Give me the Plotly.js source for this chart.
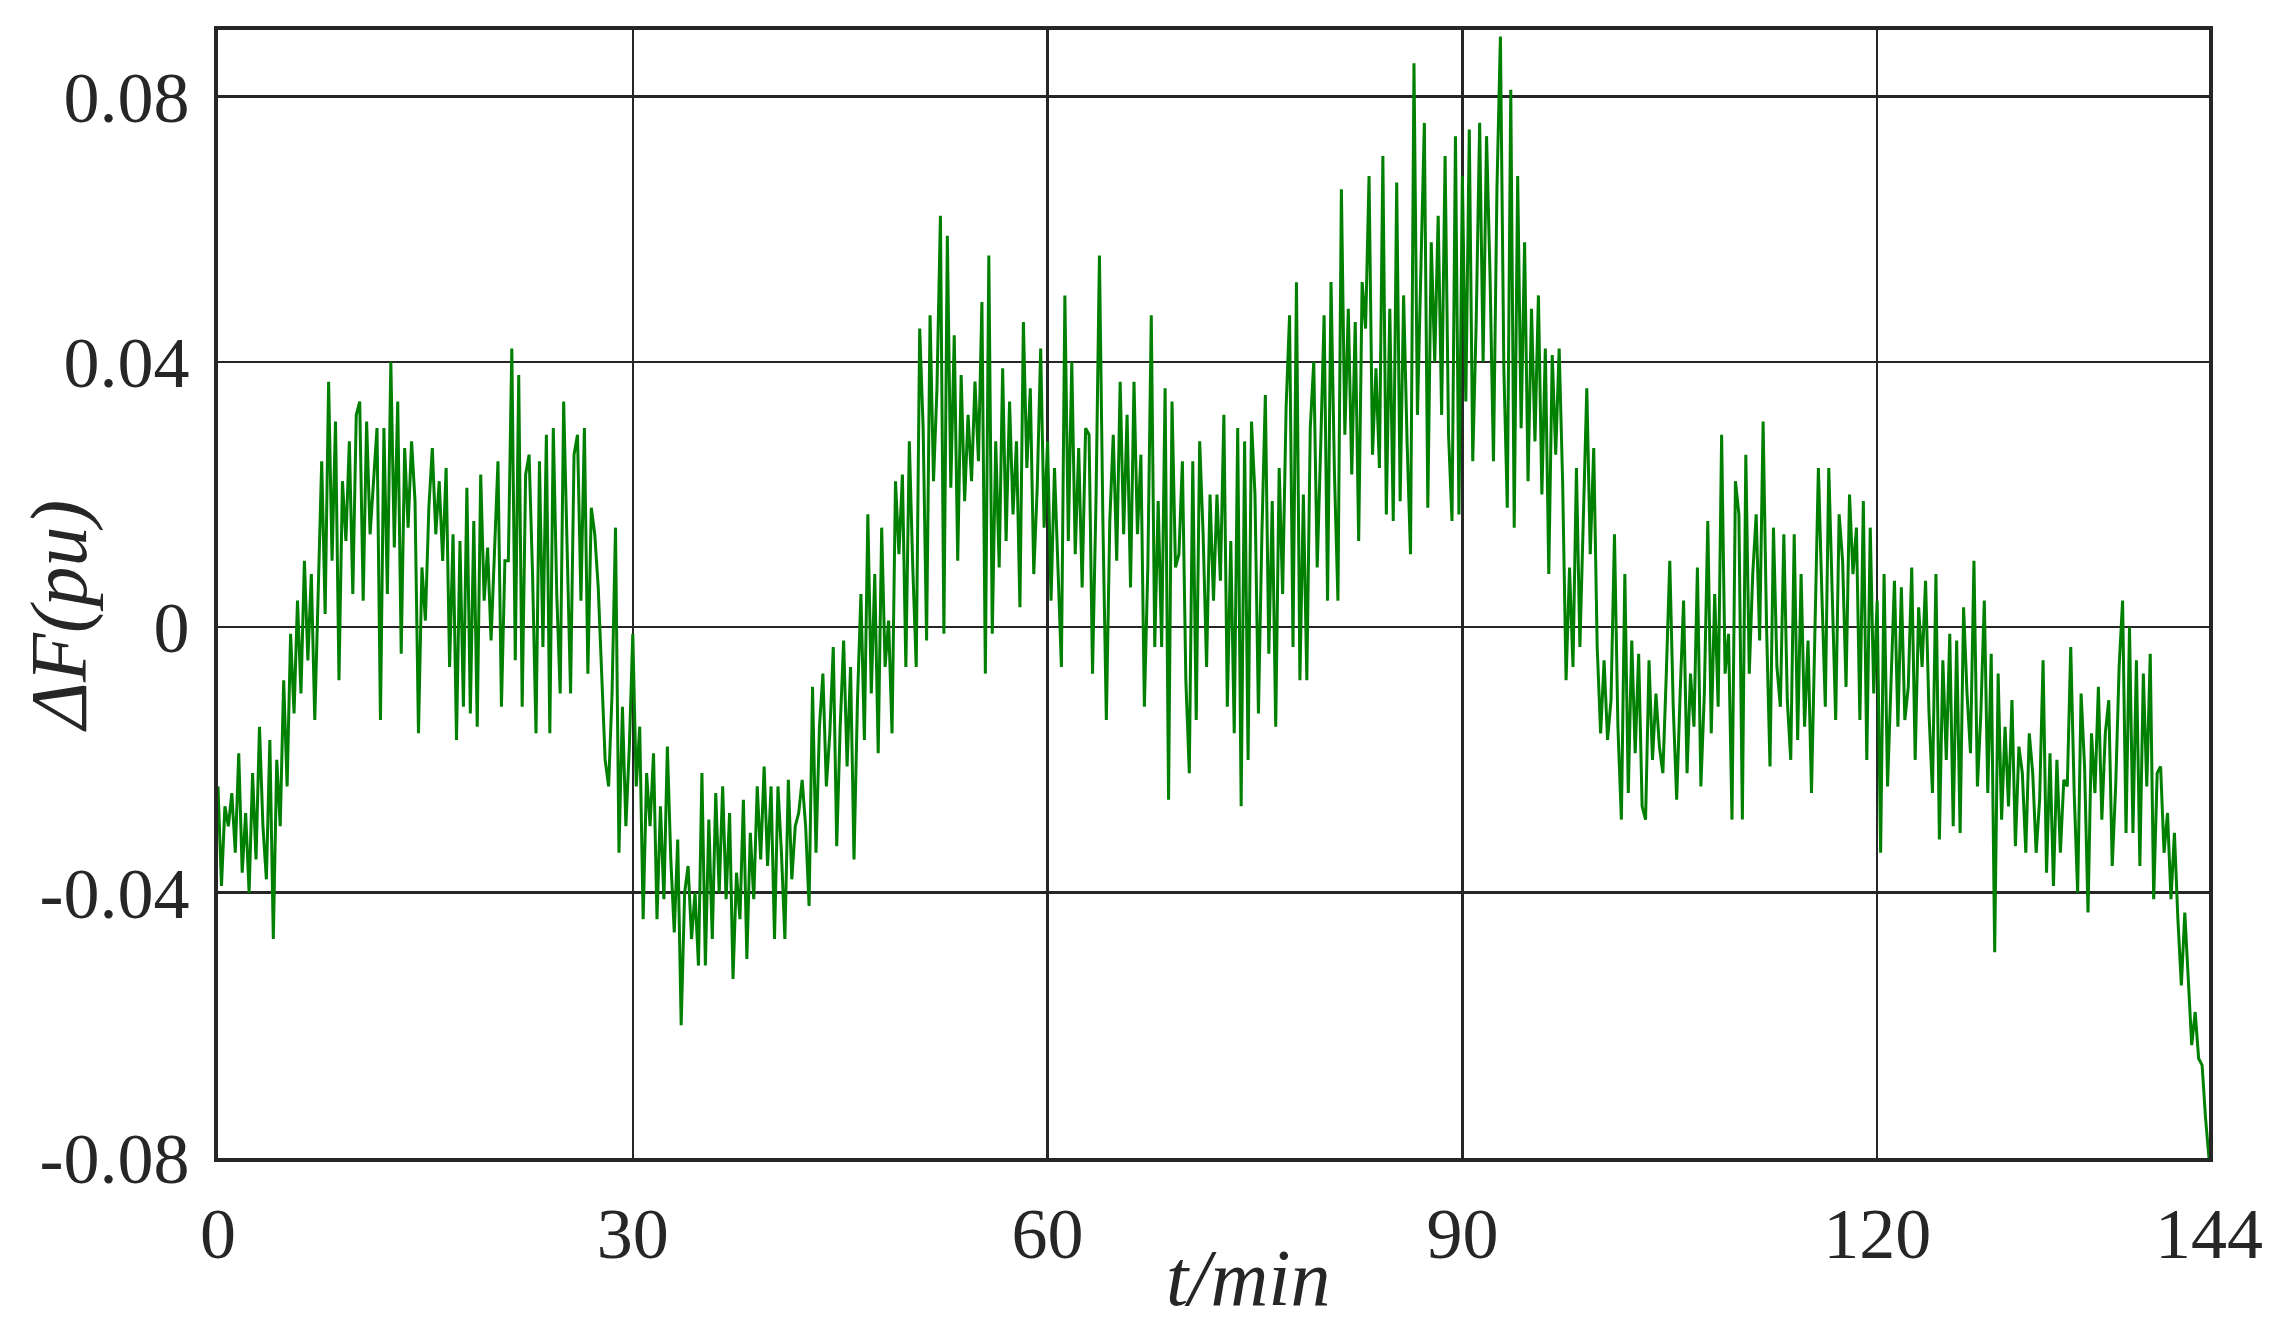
<!DOCTYPE html>
<html>
<head>
<meta charset="utf-8">
<script src="https://cdn.plot.ly/plotly-3.0.1.min.js"></script>
<style>html,body{margin:0;padding:0;background:#fff;}#chart{width:2274px;height:1324px;}</style>
</head>
<body>
<div id="chart"></div>
<script>
// Sampling step of the series (minutes)
const SAMPLE_STEP = 0.25;

// ΔF (pu), t = 0 .. 30.75 min
const dF_00_30 = [
 -0.024,-0.039,-0.027,-0.030,-0.025,-0.034,-0.019,-0.037,-0.028,-0.040,
 -0.022,-0.035,-0.015,-0.030,-0.038,-0.017,-0.047,
 -0.020,-0.030,-0.008,-0.024,-0.001,
 -0.013,0.004,-0.010,0.010,-0.005,0.008,-0.014,0.006,
 0.025,0.002,0.037,0.010,0.031,-0.008,0.022,0.013,0.028,0.005,0.032,
 0.034,0.004,0.031,0.014,0.022,0.030,-0.014,0.030,0.005,0.040,0.012,0.034,-0.004,0.027,0.015,0.028,0.019,-0.016,0.009,0.001,0.018,0.027,0.014,0.022,
 0.010,0.024,-0.006,0.014,-0.017,0.013,-0.012,0.021,-0.013,0.016,-0.015,0.023,0.004,0.012,-0.002,0.013,0.025,-0.012,0.010,
 0.010,0.042,-0.005,0.038,-0.012,0.023,0.026,0.008,-0.016,0.025,-0.003,0.029,-0.016,0.030,0.005,-0.010,0.034,0.010,-0.010,0.026,0.029,0.004,0.030,-0.007,0.018,0.014,
 0.006,-0.007,-0.020,-0.024,-0.010,0.015,-0.034,-0.012,-0.030,-0.018,-0.001,-0.024,-0.015,-0.044
];

// t = 31.0 .. 60.75 min
const dF_30_60 = [
 -0.022,-0.030,-0.019,-0.044,-0.027,-0.041,-0.018,-0.035,-0.046,
 -0.032,-0.060,-0.040,-0.036,-0.047,-0.040,-0.051,-0.022,-0.051,-0.029,-0.047,-0.025,-0.040,-0.024,-0.041,-0.028,-0.053,-0.037,-0.044,-0.026,-0.050,-0.031,-0.041,-0.024,
 -0.035,-0.021,-0.036,-0.024,-0.047,-0.024,-0.034,-0.047,-0.023,-0.038,-0.030,-0.028,-0.023,-0.030,-0.042,
 -0.009,-0.034,-0.015,-0.007,-0.024,-0.016,-0.003,-0.033,-0.015,-0.002,-0.021,-0.006,-0.035,-0.011,
 0.005,-0.017,0.017,-0.010,0.008,-0.019,0.015,-0.006,0.001,-0.016,0.022,
 0.011,0.023,-0.006,0.028,0.009,-0.006,0.045,0.030,-0.002,0.047,0.022,0.036,0.062,-0.001,0.059,0.021,
 0.044,0.010,0.038,0.019,0.032,0.022,0.037,0.025,0.049,-0.007,0.056,-0.001,0.028,0.009,0.039,0.013,0.034,0.017,0.028,0.003,0.046,0.024,0.036,0.008,0.021,0.042,0.015,0.028,0.004,0.024,0.009
];

// t = 61.0 .. 90.75 min
const dF_60_90 = [
 -0.006,0.050,0.013,0.040,0.011,0.027,0.006,0.030,0.029,-0.007,0.019,0.056,
 0.016,-0.014,0.016,0.029,0.010,0.037,0.014,0.032,0.006,0.037,0.014,0.026,
 -0.012,0.009,0.047,-0.003,0.019,-0.003,0.036,-0.026,0.034,
 0.009,0.011,0.025,-0.008,-0.022,0.025,-0.014,0.028,0.014,-0.006,0.020,0.004,0.020,0.007,0.032,
 -0.012,0.013,-0.016,0.030,-0.027,0.028,-0.020,0.031,0.020,-0.013,0.014,0.035,-0.004,
 0.019,-0.015,0.024,0.005,0.033,0.047,-0.003,0.052,-0.008,0.020,-0.008,0.030,0.040,
 0.009,0.027,0.047,0.004,0.052,0.023,0.004,0.066,0.029,0.048,0.023,0.046,0.013,0.052,
 0.045,0.068,0.026,0.039,0.024,0.071,0.017,0.048,0.016,0.067,0.019,0.050,0.028,
 0.011,0.085,0.032,0.055,0.076,0.018,0.058,0.040,0.062,0.032,0.071,0.029,0.016,0.074,0.017,0.068,0.034,0.075,0.025
];

// t = 91.0 .. 120.75 min
const dF_90_120 = [
 0.046,0.076,0.040,0.074,0.053,0.025,0.066,0.089,0.039,
 0.018,0.081,0.015,0.068,0.030,0.058,0.022,0.048,0.028,0.050,
 0.020,0.042,0.008,0.041,0.026,0.042,0.022,
 -0.008,0.009,-0.006,0.024,-0.003,0.017,0.036,0.011,0.027,-0.003,
 -0.016,-0.005,-0.017,-0.011,0.014,-0.015,-0.029,0.008,-0.025,-0.002,-0.019,-0.004,-0.027,-0.029,-0.005,-0.020,-0.010,-0.018,-0.022,-0.007,0.010,-0.012,
 -0.026,-0.010,0.004,-0.022,-0.007,-0.015,0.009,-0.024,-0.010,0.016,-0.016,0.005,-0.012,0.029,-0.007,-0.001,-0.029,0.022,0.017,-0.029,0.026,-0.007,0.008,0.017,-0.002,0.031,0.000,-0.021,0.015,
 -0.006,-0.012,0.014,-0.011,-0.020,0.014,-0.017,0.008,-0.015,-0.002,-0.025,0.000,0.024,
 0.005,-0.012,0.024,0.006,-0.014,0.017,0.010,-0.009,0.020,0.008,0.015,-0.014,0.019,-0.020,0.015,-0.010,0.004,-0.034,0.008,-0.024
];

// t = 121.0 .. 144.0 min
const dF_120_144 = [
 -0.008,0.007,-0.015,0.006,-0.014,-0.009,0.009,-0.020,0.003,-0.006,0.007,-0.013,-0.025,
 0.008,-0.032,-0.005,-0.020,-0.001,-0.030,-0.002,-0.031,0.003,-0.010,-0.019,0.010,-0.024,-0.013,0.004,-0.025,-0.004,
 -0.049,-0.007,-0.029,-0.015,-0.027,-0.011,-0.033,-0.018,-0.022,-0.034,-0.016,-0.022,-0.034,-0.026,-0.005,-0.037,-0.019,
 -0.039,-0.020,-0.034,-0.023,-0.024,-0.003,-0.025,-0.040,-0.010,-0.021,-0.043,-0.016,-0.025,-0.009,-0.029,-0.016,-0.011,-0.036,-0.024,-0.006,
 0.004,-0.031,0.000,-0.031,-0.005,-0.036,-0.007,-0.024,-0.004,-0.041,
 -0.022,-0.021,-0.034,-0.028,-0.041,-0.031,-0.044,-0.054,-0.043,-0.053,-0.063,-0.058,-0.065,-0.066,-0.074,-0.080
];

// Axis ticks and titles
const xTickVals = [0, 30, 60, 90, 120, 144];
const xTickText = ['0', '30', '60', '90', '120', '144'];
const yTickVals = [-0.08, -0.04, 0, 0.04, 0.08];
const yTickText = ['-0.08', '-0.04', '0', '0.04', '0.08'];
const xTitle = 't/min';
const yTitle = 'ΔF(pu)';

const dF = [].concat(dF_00_30, dF_30_60, dF_60_90, dF_90_120, dF_120_144);
const t = dF.map((_, i) => i * SAMPLE_STEP);

const ink = '#262626';
const serif = 'Liberation Serif, Times New Roman, serif';

const trace = {
  x: t, y: dF, type: 'scatter', mode: 'lines',
  line: { color: '#008000', width: 3 },
  hoverinfo: 'skip'
};

const layout = {
  width: 2274, height: 1324,
  paper_bgcolor: '#ffffff', plot_bgcolor: '#ffffff',
  margin: { l: 218, r: 65, t: 30, b: 166 },
  showlegend: false,
  font: { family: serif, color: ink },
  xaxis: {
    range: [0, 144], tickmode: 'array', tickvals: xTickVals, ticktext: xTickText,
    ticks: '', showgrid: true, gridcolor: ink, gridwidth: 2.5, zeroline: false,
    showline: true, mirror: true, linecolor: ink, linewidth: 4,
    tickfont: { family: serif, size: 72, color: ink },
    ticklabelstandoff: 10
  },
  yaxis: {
    range: [-0.08, 0.09], tickmode: 'array', tickvals: yTickVals, ticktext: yTickText,
    ticks: '', showgrid: true, gridcolor: ink, gridwidth: 2.5, zeroline: false,
    showline: true, mirror: true, linecolor: ink, linewidth: 4,
    tickfont: { family: serif, size: 72, color: ink },
    ticklabelstandoff: 10
  },
  annotations: [
    {
      text: '<i>' + xTitle + '</i>', xref: 'paper', yref: 'paper',
      x: 0.5173, y: -0.066, xanchor: 'center', yanchor: 'top', showarrow: false,
      font: { family: serif, size: 80, color: ink }
    },
    {
      text: '<i>' + yTitle + '</i>', xref: 'paper', yref: 'paper',
      x: -0.0794, y: 0.4805, xanchor: 'center', yanchor: 'middle', showarrow: false,
      textangle: -90,
      font: { family: serif, size: 80, color: ink }
    }
  ]
};

Plotly.newPlot('chart', [trace], layout, { staticPlot: true, displayModeBar: false });
</script>
</body>
</html>
